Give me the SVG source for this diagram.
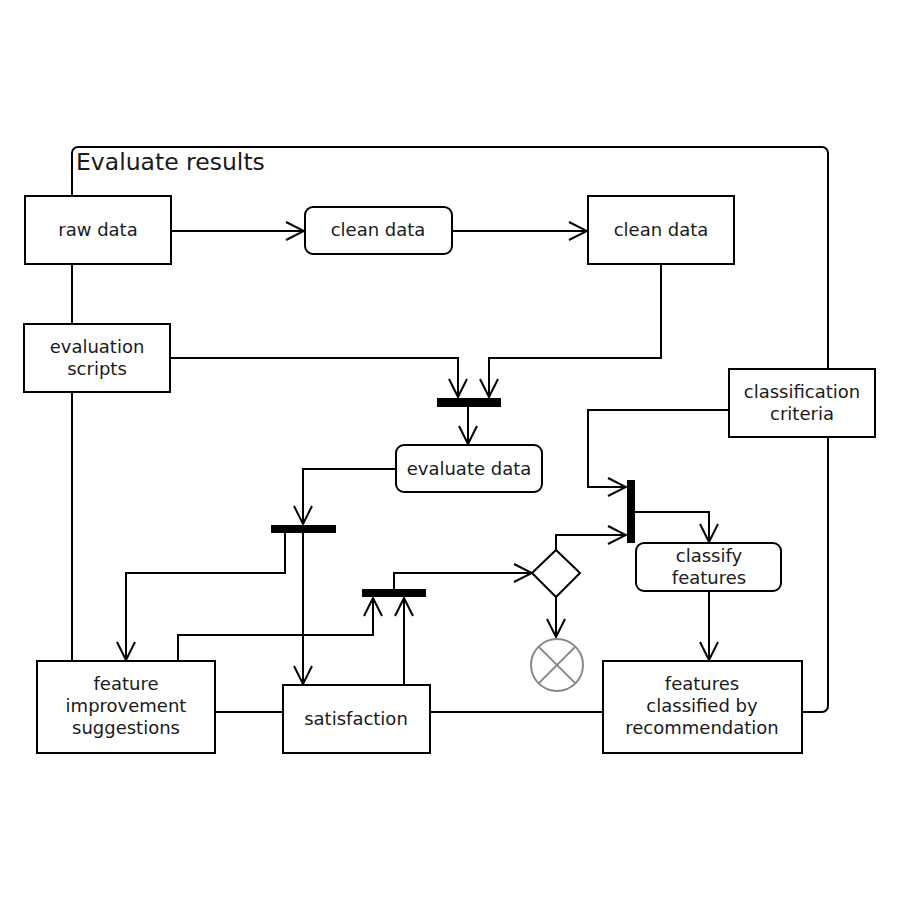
<svg xmlns="http://www.w3.org/2000/svg" width="900" height="900" viewBox="0 0 900 900">
<defs>
<marker id="arr" markerWidth="20" markerHeight="20" viewBox="0 0 20 20" refX="19" refY="10" orient="auto" markerUnits="userSpaceOnUse">
<path d="M1,1 L19,10 L1,19" fill="none" stroke="#000" stroke-width="2"/>
</marker>
<style>
.n{fill:#fff;stroke:#000;stroke-width:2}
.bar{fill:#000}
.t{font-family:"DejaVu Sans","Liberation Sans",sans-serif;font-size:18px;fill:#1a1a1a;text-anchor:middle}
.c{fill:none;stroke:#000;stroke-width:2;marker-end:url(#arr)}
</style>
</defs>
<rect width="900" height="900" fill="#fff"/>
<g id="frame">
<rect x="72" y="147" width="756" height="565" rx="6" fill="none" stroke="#000" stroke-width="2"/>
<text x="76" y="170" font-family="DejaVu Sans,Liberation Sans,sans-serif" font-size="23.5" fill="#1a1a1a">Evaluate results</text>
</g>
<g id="connectors">
<path class="c" d="M171,231 H304"/>
<path class="c" d="M452,231 H587"/>
<path class="c" d="M170,358 H458 V397"/>
<path class="c" d="M661,264 V358 H489 V397"/>
<path class="c" d="M468,407 V444"/>
<path class="c" d="M396,469 H303 V524"/>
<path class="c" d="M285,533 V573 H126 V660"/>
<path class="c" d="M303,533 V684"/>
<path class="c" d="M178,661 V635 H373 V598"/>
<path class="c" d="M404,685 V598"/>
<path class="c" d="M394,589 V573 H532"/>
<path class="c" d="M556,550 V535 H626"/>
<path class="c" d="M556,597 V637"/>
<path class="c" d="M729,410 H588 V487 H626"/>
<path class="c" d="M635,512 H709 V542"/>
<path class="c" d="M709,591 V660"/>
</g>
<g id="raw-data"><rect class="n" x="25" y="196" width="146" height="68"/><text class="t" x="98" y="236">raw data</text></g>
<g id="clean-data-action"><rect class="n" x="305" y="207" width="147" height="47" rx="8"/><text class="t" x="378" y="236">clean data</text></g>
<g id="clean-data"><rect class="n" x="588" y="196" width="146" height="68"/><text class="t" x="661" y="236">clean data</text></g>
<g id="evaluation-scripts"><rect class="n" x="24" y="324" width="146" height="68"/><text class="t" x="97" y="353">evaluation</text><text class="t" x="97" y="375">scripts</text></g>
<g id="join1"><rect class="bar" x="437" y="398" width="64" height="9"/></g>
<g id="evaluate-data"><rect class="n" x="396" y="445" width="146" height="47" rx="8"/><text class="t" x="469" y="475">evaluate data</text></g>
<g id="classification-criteria"><rect class="n" x="729" y="369" width="146" height="68"/><text class="t" x="802" y="398">classification</text><text class="t" x="802" y="420">criteria</text></g>
<g id="join-vertical"><rect class="bar" x="627" y="480" width="8" height="63"/></g>
<g id="classify-features"><rect class="n" x="636" y="543" width="145" height="48" rx="8"/><text class="t" x="709" y="562">classify</text><text class="t" x="709" y="584">features</text></g>
<g id="decision"><path class="n" d="M556,550 L580,573 L556,597 L532,573 Z"/></g>
<g id="flow-final"><circle cx="557" cy="665" r="26" fill="#fff" stroke="#888" stroke-width="2"/><path d="M538.6,646.6 L575.4,683.4 M575.4,646.6 L538.6,683.4" stroke="#888" stroke-width="2"/></g>
<g id="fork2"><rect class="bar" x="271" y="525" width="65" height="8"/></g>
<g id="join3"><rect class="bar" x="362" y="589" width="64" height="8"/></g>
<g id="feature-improvement-suggestions"><rect class="n" x="37" y="661" width="178" height="92"/><text class="t" x="126" y="690">feature</text><text class="t" x="126" y="712">improvement</text><text class="t" x="126" y="734">suggestions</text></g>
<g id="satisfaction"><rect class="n" x="283" y="685" width="147" height="68"/><text class="t" x="356" y="725">satisfaction</text></g>
<g id="features-classified"><rect class="n" x="603" y="661" width="199" height="92"/><text class="t" x="702" y="690">features</text><text class="t" x="702" y="712">classified by</text><text class="t" x="702" y="734">recommendation</text></g>
</svg>
